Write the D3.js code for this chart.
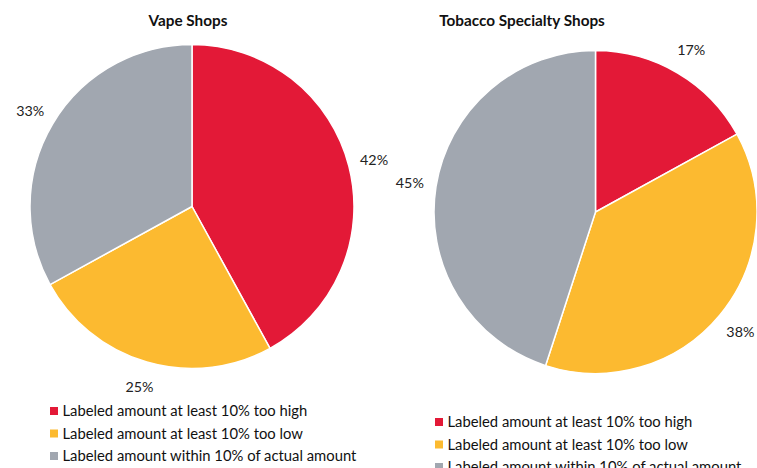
<!DOCTYPE html>
<html>
<head>
<meta charset="utf-8">
<script src="https://cdn.jsdelivr.net/npm/d3@7"></script>
<style>
  body { margin: 0; background: #fff; }
  svg { display: block; font-family: Lato, "Noto Sans", sans-serif; }
</style>
</head>
<body>
<svg id="chart"></svg>
<script>
// categories and values
const categories = [
  "Labeled amount at least 10% too high",
  "Labeled amount at least 10% too low",
  "Labeled amount within 10% of actual amount"
];
const colors = ["#e31937", "#fcba30", "#a1a7b0"];
const shopTypes = ["Vape Shops", "Tobacco Specialty Shops"];
const vapeValues = [42, 25, 33];
const tobaccoValues = [17, 38, 45];

const width = 757, height = 468;
const svg = d3.select("#chart")
  .attr("width", width)
  .attr("height", height);

// layout of each panel (pie centre, title, legend)
const panels = [
  { title: shopTypes[0], values: vapeValues, cx: 192, cy: 206.5, r: 162, titleX: 188, titleY: 26, legX: 50, legY: 411 },
  { title: shopTypes[1], values: tobaccoValues, cx: 595.5, cy: 212, r: 161.5, titleX: 522, titleY: 26, legX: 435, legY: 422 }
];

const pie = d3.pie().sort(null).value(d => d);
const color = d3.scaleOrdinal().domain(d3.range(categories.length)).range(colors);

panels.forEach(p => {
  const g = svg.append("g").attr("transform", `translate(${p.cx},${p.cy})`);
  const arc = d3.arc().innerRadius(0).outerRadius(p.r);
  const labelArc = d3.arc().innerRadius(188).outerRadius(188);
  const slices = pie(p.values);

  g.selectAll("path")
    .data(slices)
    .join("path")
      .attr("d", arc)
      .attr("fill", (d, i) => color(i))
      .attr("stroke", "#fff")
      .attr("stroke-width", 1.5);

  g.selectAll("text.pct")
    .data(slices)
    .join("text")
      .attr("class", "pct")
      .attr("transform", d => `translate(${labelArc.centroid(d)})`)
      .attr("text-anchor", "middle")
      .attr("dy", "0.35em")
      .attr("font-size", 14.3)
      .attr("fill", "#222")
      .text(d => d.data + "%");

  svg.append("text")
    .attr("x", p.titleX)
    .attr("y", p.titleY)
    .attr("text-anchor", "middle")
    .attr("font-size", 15.3)
    .attr("font-weight", "bold")
    .attr("fill", "#111")
    .text(p.title);

  // legend
  const leg = svg.append("g").attr("transform", `translate(${p.legX},${p.legY})`);
  const rows = leg.selectAll("g")
    .data(categories)
    .join("g")
      .attr("transform", (d, i) => `translate(0,${i * 22.5})`);
  rows.append("rect")
    .attr("x", 0).attr("y", -4)
    .attr("width", 8).attr("height", 8)
    .attr("fill", (d, i) => color(i));
  rows.append("text")
    .attr("x", 12.5)
    .attr("dy", "0.35em")
    .attr("font-size", 14.8)
    .attr("fill", "#111")
    .text(d => d);
});
</script>
</body>
</html>
